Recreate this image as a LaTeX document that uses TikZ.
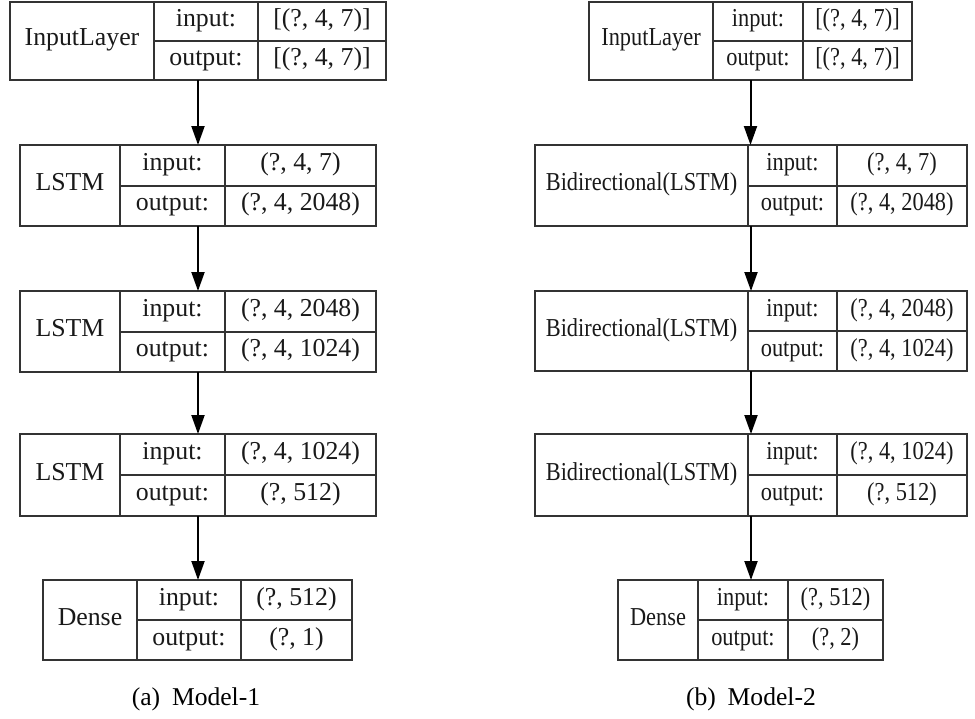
\documentclass[tikz,border=0pt]{standalone}
\usepackage{fontspec}
\usepackage{graphicx}
\setmainfont{Liberation Serif}
\usetikzlibrary{calc,arrows.meta}

\tikzset{
  layerbox/.style={draw=black!80, line width=1pt, inner sep=0pt, outer sep=0pt},
  cellline/.style={draw=black!80, line width=1pt},
  celltext/.style={inner sep=0pt, text=black!90, text height=0.72em, text depth=0.2em,
    font=\fontsize{12.9pt}{15pt}\selectfont},
  flow/.style={draw=black, line width=1pt, -{Triangle[length=9.5pt, width=6.5pt]}},
  captext/.style={inner sep=0pt, anchor=base, text=black,
    font=\fontsize{12.8pt}{15pt}\selectfont},
}

% outer box of a layer with its two column rules and the row rule
% #1 name, #2 left, #3 right, #4 top, #5 bottom, #6 first rule, #7 second rule
\newcommand{\klayer}[7]{%
  \node[layerbox, anchor=north west,
        minimum width={(#3-#2)*0.5pt}, minimum height={(#5-#4)*0.5pt}] (#1) at (#2,#4) {};
  \coordinate (#1-a) at (#6,#4);
  \coordinate (#1-b) at (#7,#4);
  \coordinate (#1-m) at (#6,{(#4+#5)/2});
  \draw[cellline] (#1-a) -- (#1-a |- #1.south);
  \draw[cellline] (#1-b) -- (#1-b |- #1.south);
  \draw[cellline] (#1-m) -- (#1-m -| #1.east);
}

% texts of a layer: #1 name, #2 layer type, #3 input shape, #4 output shape, #5 width factor
\newcommand{\kcells}[5]{%
  \node[celltext] (#1-type) at ($(#1.west)!0.5!(#1-a |- #1.center)$) {\scalebox{#5}[1]{#2}};
  \node[celltext] (#1-il) at ($(#1-a)!0.5!(#1-b |- #1-m)$) {\scalebox{#5}[1]{input:}};
  \node[celltext] (#1-ol) at ($(#1-m)!0.5!(#1-b |- #1.south)$) {\scalebox{#5}[1]{output:}};
  \node[celltext] (#1-iv) at ($(#1-b)!0.5!(#1.east |- #1-m)$) {\scalebox{#5}[1]{#3}};
  \node[celltext] (#1-ov) at ($(#1-b |- #1-m)!0.5!(#1.south east)$) {\scalebox{#5}[1]{#4}};
}

\begin{document}
\begin{tikzpicture}[x=0.5pt, y=-0.5pt]
\useasboundingbox (0,0) rectangle (975,718);

% ---- Model-1 ----
\klayer{a1}{10}{386}{1.5}{80}{154}{258}
\kcells{a1}{InputLayer}{[(?, 4, 7)]}{[(?, 4, 7)]}{1}
\klayer{a2}{20}{376}{145}{226}{120}{225}
\kcells{a2}{LSTM}{(?, 4, 7)}{(?, 4, 2048)}{1}
\klayer{a3}{20}{376}{291}{372}{120}{225}
\kcells{a3}{LSTM}{(?, 4, 2048)}{(?, 4, 1024)}{1}
\klayer{a4}{20}{376}{434}{516}{120}{225}
\kcells{a4}{LSTM}{(?, 4, 1024)}{(?, 512)}{1}
\klayer{a5}{43}{352}{580}{660}{137}{241}
\kcells{a5}{Dense}{(?, 512)}{(?, 1)}{1}

\draw[flow] (a1.south) -- (a1.south |- a2.north);
\draw[flow] (a2.south) -- (a2.south |- a3.north);
\draw[flow] (a3.south) -- (a3.south |- a4.north);
\draw[flow] (a4.south) -- (a4.south |- a5.north);

\node[captext] (capa) at (196,705) {(a)\hspace{0.46em}Model-1};

% ---- Model-2 ----
\klayer{b1}{589}{912}{1.5}{80}{713}{803}
\kcells{b1}{InputLayer}{[(?, 4, 7)]}{[(?, 4, 7)]}{0.867}
\klayer{b2}{535}{967}{145}{226}{748}{837}
\kcells{b2}{Bidirectional(LSTM)}{(?, 4, 7)}{(?, 4, 2048)}{0.867}
\klayer{b3}{535}{967}{291}{371}{748}{837}
\kcells{b3}{Bidirectional(LSTM)}{(?, 4, 2048)}{(?, 4, 1024)}{0.867}
\klayer{b4}{535}{967}{434}{516}{748}{837}
\kcells{b4}{Bidirectional(LSTM)}{(?, 4, 1024)}{(?, 512)}{0.867}
\klayer{b5}{618}{883}{580}{660}{698}{788}
\kcells{b5}{Dense}{(?, 512)}{(?, 2)}{0.867}

\draw[flow] (b1.south) -- (b1.south |- b2.north);
\draw[flow] (b2.south) -- (b2.south |- b3.north);
\draw[flow] (b3.south) -- (b3.south |- b4.north);
\draw[flow] (b4.south) -- (b4.south |- b5.north);

\node[captext] (capb) at (751,705) {(b)\hspace{0.46em}Model-2};
\end{tikzpicture}
\end{document}
